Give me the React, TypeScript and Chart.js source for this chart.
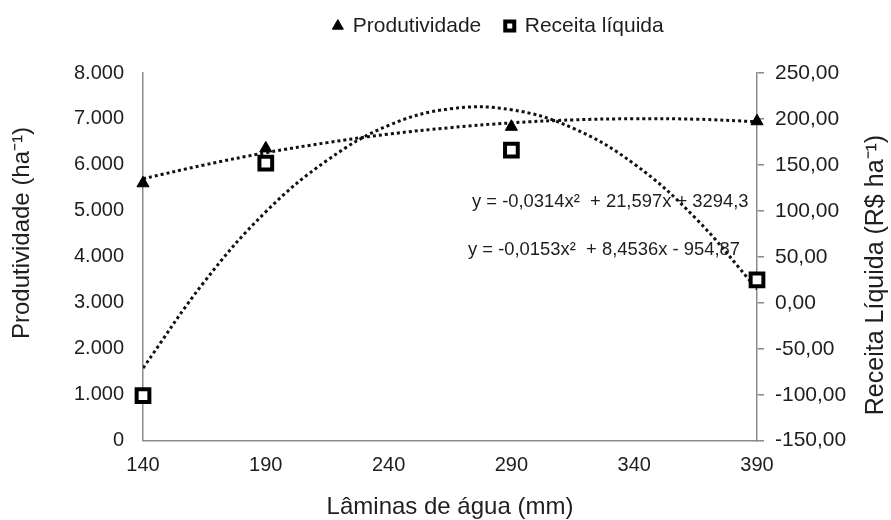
import React, { useEffect, useRef } from 'react';
import { Chart, registerables } from 'chart.js';

Chart.register(...registerables);

// ---- data ----
const laminas = [140, 190, 290, 390];
const produtividade = [5600, 6360, 6830, 6950];
const receitaLiquida = [-101, 152, 166, 25];

const trendX = [140, 165, 190, 215, 240, 265, 290, 315, 340, 365, 390];
const produtividadeTendencia = [5700, 6000, 6265, 6485, 6670, 6810, 6915, 6980, 7005, 6995, 6940];
const receitaTendencia = [-71, 23, 99, 155, 193, 211, 210, 190, 151, 92, 15];

const xTicks = [140, 190, 240, 290, 340, 390];
const leftTicks = [0, 1000, 2000, 3000, 4000, 5000, 6000, 7000, 8000];
const rightTicks = [-150, -100, -50, 0, 50, 100, 150, 200, 250];

const serieNomes = ['Produtividade', 'Receita líquida'];
const tituloX = 'Lâminas de água (mm)';
const tituloEsq = 'Produtividade (ha⁻¹)';
const tituloDir = 'Receita Líquida (R$ ha⁻¹)';
const equacaoProdutividade = 'y = -0,0314x²  + 21,597x + 3294,3';
const equacaoReceita = 'y = -0,0153x²  + 8,4536x - 954,87';

const FONT = '"Liberation Sans", Arial, Helvetica, sans-serif';
const TXT = '#1e1e1e';
const AXIS = '#8a8a8a';

const fmtMil = (v: number) => String(v).replace(/\B(?=(\d{3})+(?!\d))/g, '.');
const fmtReais = (v: number) => v.toFixed(2).replace('.', ',');

const textPlugin = {
  id: 'textos',
  beforeUpdate(chart: any) {
    const lg = chart.legend;
    if (lg && !lg._patched) {
      const orig = lg.fit.bind(lg);
      lg.fit = () => {
        orig();
        lg.height = 73;
      };
      lg._patched = true;
    }
  },
  afterLayout(chart: any) {
    const lg = chart.legend;
    if (lg) {
      lg.left = 106;
      lg.top = -8.5;
    }
  },
  afterDatasetsDraw(chart: any) {
    const ctx = chart.ctx;
    ctx.save();
    ctx.fillStyle = TXT;
    ctx.textBaseline = 'middle';
    ctx.textAlign = 'left';
    ctx.font = `18.4px ${FONT}`;
    ctx.fillText(equacaoProdutividade, 472, 202);
    ctx.fillText(equacaoReceita, 468, 250);

    ctx.textAlign = 'center';
    ctx.save();
    ctx.font = `24px ${FONT}`;
    ctx.translate(22, 233);
    ctx.rotate(-Math.PI / 2);
    ctx.fillText(tituloEsq, 0, 0);
    ctx.restore();
    ctx.save();
    ctx.font = `25px ${FONT}`;
    ctx.translate(876, 275);
    ctx.rotate(-Math.PI / 2);
    ctx.fillText(tituloDir, 0, 0);
    ctx.restore();
    ctx.restore();
  },
};

export default function App() {
  const ref = useRef<HTMLCanvasElement>(null);

  useEffect(() => {
    document.body.style.margin = '0';
    const canvas = ref.current;
    if (!canvas) return;
    const dotted = {
      borderColor: '#111',
      borderWidth: 3,
      borderDash: [3, 3],
      pointRadius: 0,
      tension: 0.4,
      fill: false,
      order: 2,
    };
    const chart = new Chart(canvas, {
      type: 'line',
      data: {
        datasets: [
          {
            label: serieNomes[0],
            data: laminas.map((x, i) => ({ x, y: produtividade[i] })),
            yAxisID: 'y',
            showLine: false,
            clip: false,
            pointStyle: 'triangle',
            pointRadius: 7,
            pointBackgroundColor: '#000',
            pointBorderColor: '#000',
            pointBorderWidth: 1,
            backgroundColor: '#000',
            borderColor: '#000',
            order: 0,
          },
          {
            label: serieNomes[1],
            data: laminas.map((x, i) => ({ x, y: receitaLiquida[i] })),
            yAxisID: 'y1',
            showLine: false,
            clip: false,
            pointStyle: 'rect',
            pointRadius: 9,
            pointBackgroundColor: '#fff',
            pointBorderColor: '#000',
            pointBorderWidth: 4,
            backgroundColor: '#fff',
            borderColor: '#000',
            order: 0,
          },
          {
            label: 'Tendência produtividade',
            data: trendX.map((x, i) => ({ x, y: produtividadeTendencia[i] })),
            yAxisID: 'y',
            ...dotted,
          },
          {
            label: 'Tendência receita',
            data: trendX.map((x, i) => ({ x, y: receitaTendencia[i] })),
            yAxisID: 'y1',
            ...dotted,
          },
        ] as any,
      },
      options: {
        responsive: false,
        animation: false,
        devicePixelRatio: 1,
        layout: { padding: { top: 0, left: 0, right: 0, bottom: 0 } },
        plugins: {
          tooltip: { enabled: false },
          legend: {
            display: true,
            position: 'top',
            align: 'center',
            labels: {
              usePointStyle: true,
              boxWidth: 9,
              boxHeight: 9,
              padding: 24,
              color: TXT,
              font: { family: FONT, size: 21 },
              filter: (item: any) => item.datasetIndex < 2,
            },
          },
        },
        scales: {
          x: {
            type: 'linear',
            position: 'bottom',
            min: 140,
            max: 390,
            afterBuildTicks: (s: any) => {
              s.ticks = xTicks.map((v) => ({ value: v }));
            },
            afterFit: (s: any) => {
              s.height = 79.3;
            },
            ticks: { color: TXT, font: { family: FONT, size: 20 }, padding: 13, maxRotation: 0 },
            grid: { display: false, drawTicks: false, tickLength: 0 },
            border: { display: true, color: AXIS, width: 1.5 },
            title: {
              display: true,
              text: tituloX,
              color: TXT,
              font: { family: FONT, size: 24 },
              padding: { top: 0, bottom: -2 },
            },
          },
          y: {
            type: 'linear',
            position: 'left',
            min: 0,
            max: 8000,
            afterBuildTicks: (s: any) => {
              s.ticks = leftTicks.map((v) => ({ value: v }));
            },
            afterFit: (s: any) => {
              s.width = 143;
            },
            ticks: { color: TXT, font: { family: FONT, size: 20 }, padding: 19, callback: (v: any) => fmtMil(Number(v)) },
            grid: { display: false, drawTicks: false, tickLength: 0 },
            border: { display: true, color: AXIS, width: 1.5 },
          },
          y1: {
            type: 'linear',
            position: 'right',
            min: -150,
            max: 250,
            afterBuildTicks: (s: any) => {
              s.ticks = rightTicks.map((v) => ({ value: v }));
            },
            afterFit: (s: any) => {
              s.width = 134;
            },
            ticks: { color: TXT, font: { family: FONT, size: 21 }, padding: 11, callback: (v: any) => fmtReais(Number(v)) },
            grid: { display: true, drawOnChartArea: false, drawTicks: true, tickLength: 7, color: AXIS, lineWidth: 1.5 },
            border: { display: true, color: AXIS, width: 1.5 },
          },
        },
      } as any,
      plugins: [textPlugin],
    });
    return () => chart.destroy();
  }, []);

  return (
    <div style={{ width: 891, height: 520 }}>
      <canvas ref={ref} width={891} height={520} />
    </div>
  );
}
